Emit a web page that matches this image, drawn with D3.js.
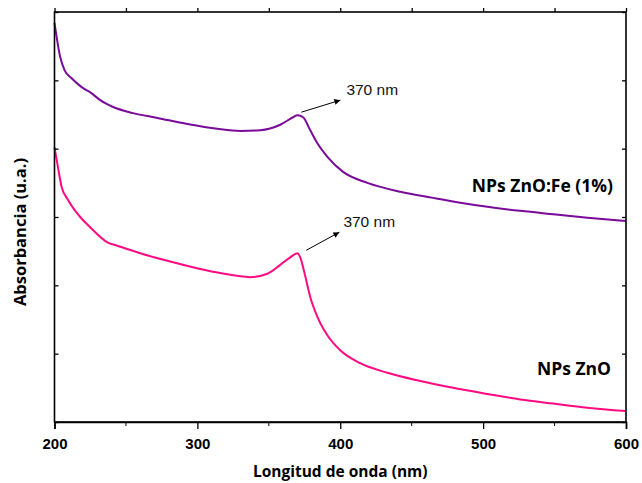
<!DOCTYPE html>
<html>
<head>
<meta charset="utf-8">
<script src="https://cdn.jsdelivr.net/npm/d3@7"></script>
<style>
  body { margin: 0; background: #fff; }
  svg { display: block; }
</style>
</head>
<body>
<div id="chart"></div>
<script>
// wavelength (nm) / absorbance (arbitrary units)
const feWave = [200, 204, 207, 212, 219, 226, 232, 241, 255, 272, 293, 314, 330, 344, 358, 367, 370, 374, 379, 384, 391, 402, 419, 442, 465, 484, 503, 526, 549, 573, 600];
const feAbs  = [5.84, 5.34, 5.15, 5.03, 4.90, 4.81, 4.71, 4.61, 4.52, 4.45, 4.36, 4.29, 4.26, 4.27, 4.35, 4.46, 4.49, 4.46, 4.27, 4.08, 3.88, 3.66, 3.50, 3.37, 3.28, 3.21, 3.15, 3.09, 3.04, 2.99, 2.94];

const znoWave = [200, 202.5, 205, 209.5, 218, 225, 237, 244, 260, 279, 302, 316, 337, 349, 358, 365, 370, 372, 375, 379, 384, 391, 400, 414, 433, 456, 479, 503, 526, 549, 573, 600];
const znoAbs  = [4.02, 3.72, 3.44, 3.25, 3.00, 2.85, 2.63, 2.58, 2.47, 2.36, 2.24, 2.18, 2.12, 2.17, 2.30, 2.41, 2.47, 2.41, 2.18, 1.83, 1.54, 1.27, 1.05, 0.86, 0.72, 0.60, 0.50, 0.41, 0.33, 0.27, 0.21, 0.16];

const xTicks = [200, 300, 400, 500, 600];
const xMinor = [250, 350, 450, 550];
const yTicks = [0, 1, 2, 3, 4, 5, 6];

const seriesNames = ["NPs ZnO:Fe (1%)", "NPs ZnO"];
const peakLabel = "370 nm";

const width = 642, height = 483;
const margin = { top: 12, right: 16, bottom: 61, left: 54.5 };

const svg = d3.select("#chart").append("svg")
  .attr("width", width)
  .attr("height", height);

const x = d3.scaleLinear().domain([200, 600]).range([margin.left, width - margin.right]);
const y = d3.scaleLinear().domain([0, 6]).range([height - margin.bottom, margin.top]);

const line = d3.line()
  .x(d => x(d[0]))
  .y(d => y(d[1]))
  .curve(d3.curveMonotoneX);

const feData = d3.zip(feWave, feAbs);
const znoData = d3.zip(znoWave, znoAbs);

svg.append("path").datum(feData)
  .attr("d", line).attr("fill", "none")
  .attr("stroke", "#7a0a9a").attr("stroke-width", 2);

svg.append("path").datum(znoData)
  .attr("d", line).attr("fill", "none")
  .attr("stroke", "#ff0a82").attr("stroke-width", 2);

// axes
const xAxisBottom = svg.append("g")
  .attr("transform", `translate(0,${y(0)})`)
  .call(d3.axisBottom(x).tickValues(xTicks).tickSize(7).tickFormat(d3.format("d")));
xAxisBottom.append("g").selectAll("line").data(xMinor).join("line")
  .attr("x1", d => x(d)).attr("x2", d => x(d))
  .attr("y1", 0).attr("y2", 4).attr("stroke", "#000");

const xAxisTop = svg.append("g")
  .attr("transform", `translate(0,${y(6)})`)
  .call(d3.axisBottom(x).tickValues(xTicks.concat(xMinor)).tickSize(-4).tickFormat(""));

const yAxisLeft = svg.append("g")
  .attr("transform", `translate(${x(200)},0)`)
  .call(d3.axisRight(y).tickValues(yTicks).tickSize(4).tickFormat(""));

const yAxisRight = svg.append("g")
  .attr("transform", `translate(${x(600)},0)`)
  .call(d3.axisLeft(y).tickValues(yTicks).tickSize(4).tickFormat(""));

svg.selectAll(".domain").attr("stroke", "#000").attr("stroke-width", 1.6);
svg.selectAll(".tick line").attr("stroke", "#000").attr("stroke-width", 1.3);
[xAxisTop, yAxisLeft, yAxisRight].forEach(g => g.select(".domain").remove());

// frame
svg.append("rect")
  .attr("x", x(200)).attr("y", y(6))
  .attr("width", x(600) - x(200)).attr("height", y(0) - y(6))
  .attr("fill", "none").attr("stroke", "#000").attr("stroke-width", 1.6);

xAxisBottom.selectAll(".tick text")
  .attr("font-family", "Arial, 'Liberation Sans', sans-serif")
  .attr("font-weight", "bold").attr("font-size", 15)
  .attr("fill", "#000").attr("dy", "0.71em").attr("y", 16);

// axis titles
svg.append("text")
  .attr("x", x(400)).attr("y", 477)
  .attr("text-anchor", "middle")
  .attr("font-family", "'Open Sans', sans-serif").attr("font-weight", "bold").attr("font-size", 15.5)
  .text("Longitud de onda (nm)");

svg.append("text")
  .attr("transform", `translate(26,232) rotate(-90)`)
  .attr("text-anchor", "middle")
  .attr("font-family", "'Open Sans', sans-serif").attr("font-weight", "bold").attr("font-size", 16.5)
  .text("Absorbancia (u.a.)");

// arrow marker
svg.append("defs").append("marker")
  .attr("id", "arrow").attr("viewBox", "0 0 10 10")
  .attr("refX", 10).attr("refY", 5)
  .attr("markerWidth", 9).attr("markerHeight", 6)
  .attr("markerUnits", "userSpaceOnUse")
  .attr("orient", "auto")
  .append("path").attr("d", "M0,0L10,5L0,10Z").attr("fill", "#000");

// peak annotations
const peaks = [
  { px: x(370), py: y(feAbs[feWave.indexOf(370)]), a: [4, -3, 43, -15], t: [49, -20] },
  { px: x(370), py: y(znoAbs[znoWave.indexOf(370)]), a: [9, -3, 42, -21], t: [46, -26] }
];
peaks.forEach(p => {
  svg.append("line")
    .attr("x1", p.px + p.a[0]).attr("y1", p.py + p.a[1])
    .attr("x2", p.px + p.a[2]).attr("y2", p.py + p.a[3])
    .attr("stroke", "#000").attr("stroke-width", 1)
    .attr("marker-end", "url(#arrow)");
  svg.append("text")
    .attr("x", p.px + p.t[0]).attr("y", p.py + p.t[1])
    .attr("font-family", "Arial, 'Liberation Sans', sans-serif").attr("font-size", 15.5)
    .attr("fill", "#111")
    .text(peakLabel);
});

// series labels
svg.append("text")
  .attr("x", x(600) - 13).attr("y", 192)
  .attr("text-anchor", "end")
  .attr("font-family", "'Open Sans', sans-serif").attr("font-weight", "bold").attr("font-size", 17.5)
  .text(seriesNames[0]);
svg.append("text")
  .attr("x", x(600) - 15).attr("y", 375)
  .attr("text-anchor", "end")
  .attr("font-family", "'Open Sans', sans-serif").attr("font-weight", "bold").attr("font-size", 17.5)
  .text(seriesNames[1]);
</script>
</body>
</html>
